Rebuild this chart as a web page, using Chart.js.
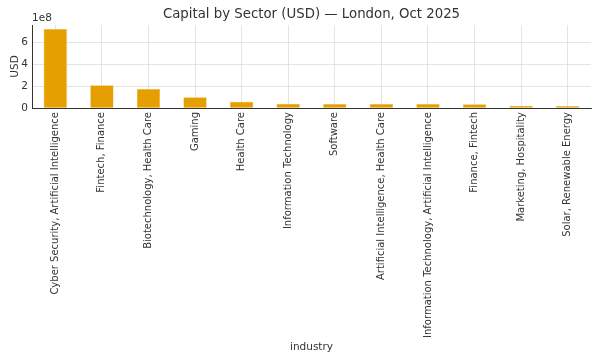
<!DOCTYPE html>
<html>
<head>
<meta charset="utf-8">
<script src="https://cdn.jsdelivr.net/npm/chart.js@4/dist/chart.umd.min.js"></script>
<style>
  html, body { margin: 0; padding: 0; background: #fff; }
  #wrap { width: 600px; height: 360px; }
</style>
</head>
<body>
<div id="wrap"><canvas id="chart" width="600" height="360"></canvas></div>
<script>
// data
const industries = [
  'Cyber Security, Artificial Intelligence',
  'Fintech, Finance',
  'Biotechnology, Health Care',
  'Gaming',
  'Health Care',
  'Information Technology',
  'Software',
  'Artificial Intelligence, Health Care',
  'Information Technology, Artificial Intelligence',
  'Finance, Fintech',
  'Marketing, Hospitality',
  'Solar, Renewable Energy'
];
const capitalUsd = [7.2e8, 2.07e8, 1.74e8, 0.99e8, 0.57e8, 0.39e8, 0.37e8, 0.37e8, 0.37e8, 0.34e8, 0.21e8, 0.18e8];
const yTicks = [0, 2e8, 4e8, 6e8];

const titleText = 'Capital by Sector (USD) \u2014 London, Oct 2025';
const fontFam = '"DejaVu Sans", sans-serif';

// title and the "1e8" offset text, matplotlib style
const extraText = {
  id: 'extraText',
  afterDraw(chart) {
    const ctx = chart.ctx;
    const area = chart.chartArea;
    ctx.save();
    ctx.fillStyle = '#333';
    ctx.font = '13.3px ' + fontFam;
    ctx.textAlign = 'center';
    ctx.textBaseline = 'middle';
    ctx.fillText(titleText, (area.left + area.right) / 2, 15);
    ctx.font = '10.5px ' + fontFam;
    ctx.textAlign = 'left';
    ctx.fillText('1e8', area.left, 18);
    ctx.restore();
  }
};

new Chart(document.getElementById('chart'), {
  type: 'bar',
  data: {
    labels: industries,
    datasets: [{
      label: 'Capital',
      data: capitalUsd,
      backgroundColor: '#E69F00',
      borderColor: '#EDB540',
      borderWidth: 0.5,
      barPercentage: 0.5,
      categoryPercentage: 1.0
    }]
  },
  options: {
    responsive: false,
    animation: false,
    layout: { padding: { top: 25, right: 9, left: 0, bottom: 6 } },
    plugins: {
      legend: { display: false },
      tooltip: { enabled: false }
    },
    scales: {
      x: {
        offset: true,
        afterFit(scale) { scale.height = 246; },
        grid: { offset: false, color: '#d8d8d8', lineWidth: 0.7, borderDash: [2, 2], drawTicks: false },
        border: { display: true, color: '#333', width: 1 },
        ticks: {
          autoSkip: false,
          maxRotation: 90,
          minRotation: 90,
          padding: 4,
          color: '#333',
          font: { family: fontFam, size: 10 }
        },
        title: {
          display: true,
          text: 'industry',
          color: '#333',
          font: { family: fontFam, size: 10.5 },
          padding: { top: 0, bottom: 0 }
        }
      },
      y: {
        min: 0,
        max: 7.56e8,
        afterBuildTicks(scale) {
          scale.ticks = yTicks.map(v => ({ value: v }));
        },
        afterFit(scale) { scale.width = 32; },
        grid: { color: '#d8d8d8', lineWidth: 0.7, borderDash: [2, 2], drawTicks: false },
        border: { display: true, color: '#333', width: 1 },
        ticks: {
          padding: 4,
          color: '#333',
          font: { family: fontFam, size: 10.5 },
          callback: v => String(v / 1e8)
        },
        title: {
          display: true,
          text: 'USD',
          color: '#333',
          font: { family: fontFam, size: 10.5 },
          padding: { top: 9, bottom: 0 }
        }
      }
    }
  },
  plugins: [extraText]
});
</script>
</body>
</html>
